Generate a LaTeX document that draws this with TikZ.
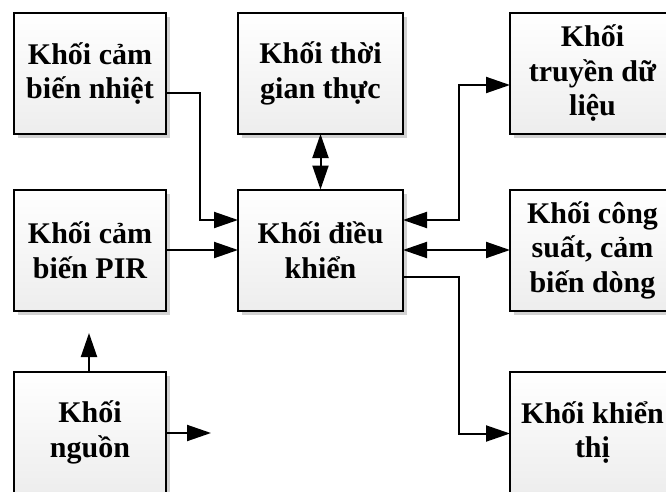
\documentclass[tikz,border=0pt]{standalone}
\usepackage{fontspec}
\setmainfont{Liberation Serif}
\usetikzlibrary{arrows.meta,shadows,calc}
\newcommand\myblkfont{\fontsize{30}{34.5}\selectfont\bfseries\lineskiplimit-100pt\lineskip0pt\relax}
\begin{document}
\begin{tikzpicture}[x=1pt,y=-1pt,
  blk/.style={draw=black,line width=2pt,outer sep=0pt,inner sep=2pt,
    top color=white,bottom color=gray!14,align=center,
    font=\myblkfont,
    drop shadow={shadow xshift=4pt,shadow yshift=-4pt,fill=gray!35,opacity=1}},
  lblk/.style={blk,minimum width=152pt,minimum height=121pt},
  mblk/.style={blk,minimum width=165pt,minimum height=121pt},
  conn/.style={line width=2pt,-{Triangle[length=24pt,width=16pt]}},
  dconn/.style={line width=2pt,{Triangle[length=24pt,width=16pt]}-{Triangle[length=24pt,width=16pt]}}]
\useasboundingbox (0,0) rectangle (666,492);
\clip (0,0) rectangle (666,492);
\fill[white] (0,0) rectangle (666,492);
% boxes
\node[lblk] (b1) at (90,73.5) {Khối cảm\\biến nhiệt};
\node[mblk] (b2) at (320.5,73.5) {Khối thời\\gian thực};
\node[mblk] (b3) at (592.5,73.5) {Khối\\truyền dữ\\liệu};
\node[lblk] (b4) at (90,250) {Khối cảm\\biến PIR};
\node[mblk] (b5) at (320.5,250) {Khối điều\\khiển};
\node[mblk] (b6) at (592.5,250) {Khối công\\suất, cảm\\biến dòng};
\node[lblk] (b7) at (90,432.5) {Khối\\nguồn};
\node[mblk] (b8) at (592.5,432.5) {Khối khiển\\thị};
% free ends
\coordinate (p1) at (89,333);
\coordinate (p2) at (211,433);
% connectors
\draw[conn] ($(b1.east)+(0,19.5)$) -- (200,93) |- ($(b5.west)+(0,-30)$);
\draw[conn] (b4.east) -- (b5.west);
\draw[dconn] (b2.south) -- (b5.north);
\draw[dconn] ($(b3.west)+(0,11.5)$) -- (459,85) |- ($(b5.east)+(0,-30)$);
\draw[dconn] (b5.east) -- (b6.west);
\draw[conn] ($(b5.east)+(0,27)$) -- (459,277) |- ($(b8.west)+(0,1)$);
\draw[conn] ($(b7.north)+(-1,0)$) -- (p1);
\draw[conn] ($(b7.east)+(0,0.5)$) -- (p2);
\end{tikzpicture}
\end{document}
